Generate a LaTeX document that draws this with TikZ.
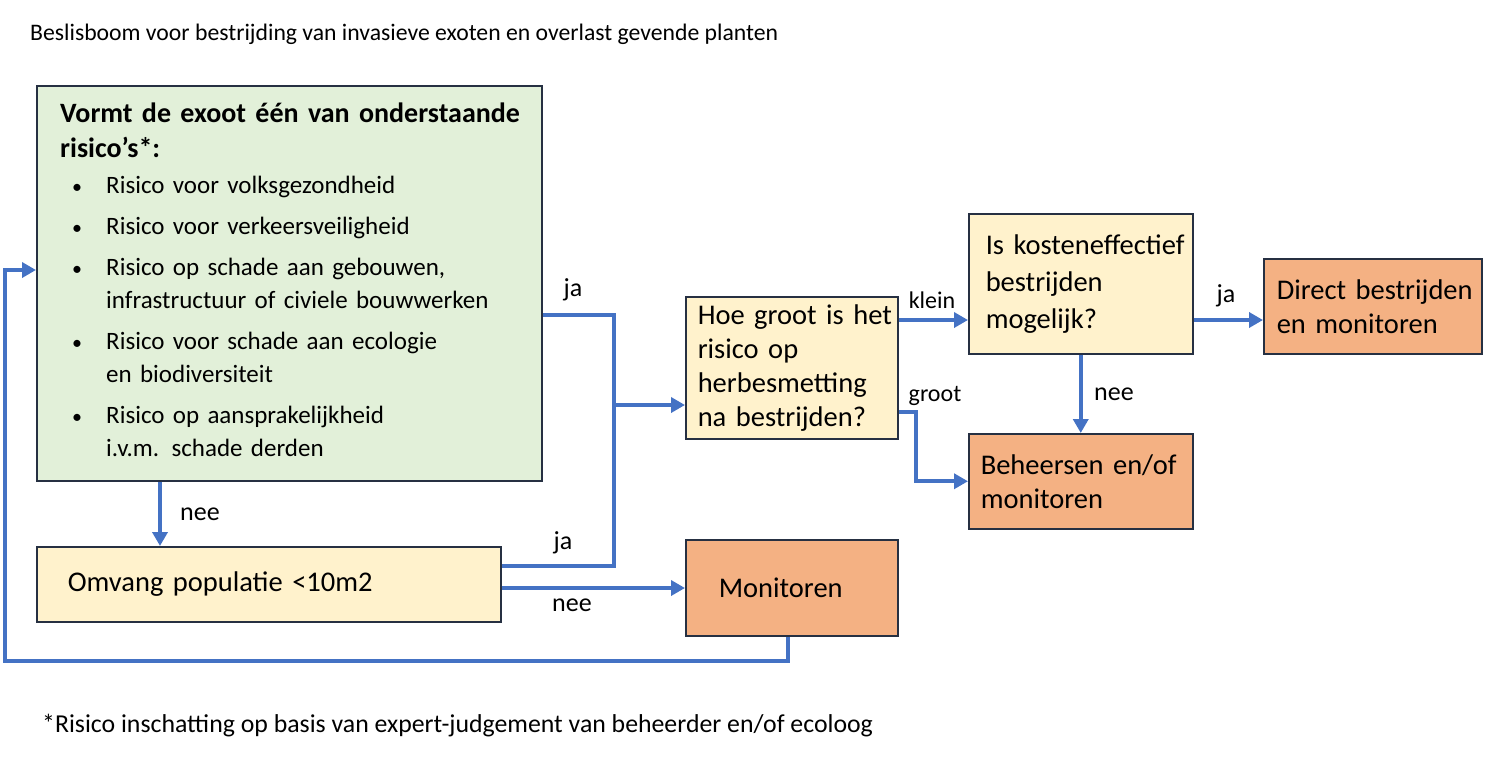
\documentclass[tikz,border=0pt]{standalone}
\usepackage{fontspec}
\setmainfont{Carlito}
\usetikzlibrary{arrows.meta}
\definecolor{lgreen}{HTML}{E2F0D9}
\definecolor{lyellow}{HTML}{FFF2CC}
\definecolor{lorange}{HTML}{F4B183}
\definecolor{conn}{HTML}{4472C4}
\definecolor{bord}{HTML}{263042}
\newcommand{\blt}{\makebox[36pt][l]{\hspace*{2pt}{\fontsize{20}{20}\selectfont•}}}
\begin{document}
\begin{tikzpicture}[x=1pt,y=-1pt,
  box/.style={draw=bord, line width=1.5pt, anchor=north west, inner xsep=0pt, inner ysep=0pt,
    align=left, font=\fontsize{28.5}{34}\selectfont,
    execute at begin node={\leftskip=#1\relax}},
  gbox/.style={draw=bord, line width=1.5pt, anchor=north west, inner sep=0pt, fill=lgreen},
  ybox/.style={box=#1, fill=lyellow},
  obox/.style={box=#1, fill=lorange},
  tx/.style={inner sep=0pt, anchor=base west, align=left},
  lbl/.style={inner sep=0pt, font=\fontsize{26}{30}\selectfont},
  slbl/.style={inner sep=0pt, font=\fontsize{24}{28}\selectfont},
  line/.style={draw=conn, line width=4pt},
  arr/.style={line, -{Triangle[length=14pt,width=15pt]}}
]
\useasboundingbox (0,0) rectangle (1496,756);

% title and footnote
\node[tx, font=\fontsize{23.7}{28}\selectfont] (title) at (30,40)
  {Beslisboom voor bestrijding van invasieve exoten en overlast gevende planten};
\node[tx, font=\fontsize{25.8}{30}\selectfont] (foot) at (42,732)
  {*Risico inschatting op basis van expert-judgement van beheerder en/of ecoloog};

% boxes
\node[gbox, minimum width=505, minimum height=395] (green) at (36,85) {};
\node[tx, text width=480, font=\fontsize{28}{35}\selectfont\bfseries] (gtitle) at (60,122)
  {Vormt de exoot één van onderstaande\\ risico’s*:};
\node[tx, text width=450, font=\fontsize{25}{33}\selectfont] (glist) at (70,193)
  {\blt Risico voor volksgezondheid\\[8pt]
   \blt Risico voor verkeersveiligheid\\[8pt]
   \blt Risico op schade aan gebouwen,\\
   \hspace*{36pt}infrastructuur of civiele bouwwerken\\[8pt]
   \blt Risico voor schade aan ecologie\\
   \hspace*{36pt}en biodiversiteit\\[8pt]
   \blt Risico op aansprakelijkheid\\
   \hspace*{36pt}i.v.m. schade derden};

\node[ybox=31pt, minimum height=75, text width=464] (omv) at (36,546)
  {Omvang populatie <10m2};
\node[ybox=12pt, minimum height=142, text width=212] (hoe) at (685,296)
  {Hoe groot is het\\ risico op\\ herbesmetting\\ na bestrijden?};
\node[ybox=17pt, minimum height=140, text width=224,
  font=\fontsize{28.5}{37}\selectfont] (kost) at (968,213)
  {\raisebox{-2pt}{Is kosteneffectief}\\ \raisebox{-2pt}{bestrijden}\\ \raisebox{-2pt}{mogelijk?}};
\node[obox=13pt, minimum height=95, text width=218] (dir) at (1263,258)
  {Direct bestrijden\\ en monitoren};
\node[obox=12pt, minimum height=95, text width=224] (beh) at (968,433)
  {Beheersen en/of\\ monitoren};
\node[obox=33pt, minimum height=96, text width=212] (mon) at (685,539)
  {\raisebox{-5pt}{Monitoren}};

% helper coordinates
\coordinate (j1) at (614,315);
\coordinate (j2) at (614,566);
\coordinate (j3) at (614,405);
\coordinate (j4) at (600,588);
\coordinate (c1) at (160,500);
\coordinate (k1) at (930,320);
\coordinate (g1) at (916,412);
\coordinate (m1) at (788,650);
\coordinate (l1) at (5,661);
\coordinate (l2) at (5,270);

% connectors
\draw[line] (green.east |- j1) -- (j1) -- (j2) -- (omv.east |- j2);
\draw[arr] (j3) -- (hoe.west |- j3);
\draw[arr] (omv.east |- j4) -- (mon.west |- j4);
\draw[arr] (green.south -| c1) -- (omv.north -| c1);
\draw[arr] (mon.south -| m1) -- (m1 |- l1) -- (l1) -- (l2) -- (green.west |- l2);
\draw[arr] (hoe.east |- k1) -- (kost.west |- k1);
\draw[arr] (hoe.east |- g1) -- (g1) -- (g1 |- beh.west) -- (beh.west);
\draw[arr] (kost.south) -- (beh.north);
\draw[arr] (kost.east |- k1) -- (dir.west |- k1);

% labels
\node[lbl] (lja1) at (573,290) {ja};
\node[lbl] (lja2) at (563,543) {ja};
\node[lbl] (lnee1) at (572,605) {nee};
\node[lbl] (lnee2) at (200,514) {nee};
\node[slbl] (lklein) at (932,300) {klein};
\node[slbl] (lgroot) at (935,396) {groot};
\node[lbl] (lnee3) at (1114,394) {nee};
\node[lbl] (lja3) at (1226,296) {ja};
\end{tikzpicture}
\end{document}
